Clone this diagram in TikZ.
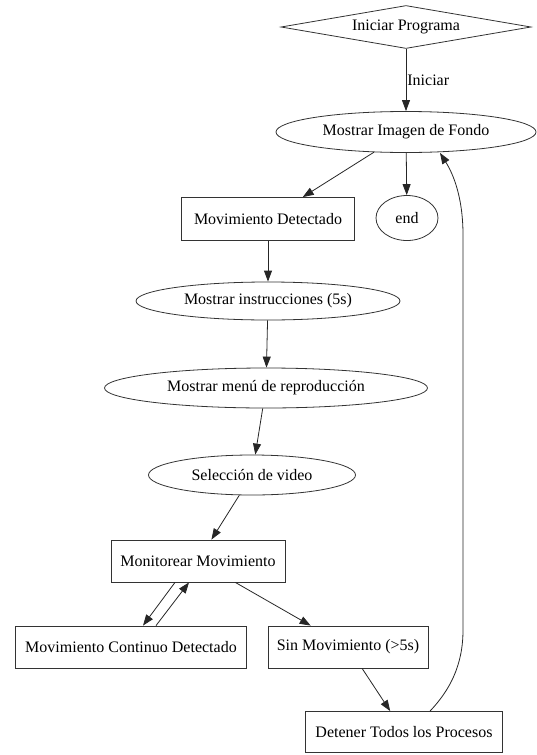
\documentclass[tikz,border=0pt]{standalone}
\usepackage{fontspec}
\setmainfont{Liberation Serif}
\usepackage{tikz}
\usetikzlibrary{arrows.meta,positioning,shapes.geometric}

\begin{document}
\begin{tikzpicture}[
  x=1pt, y=-1pt,
  font=\fontsize{16}{19}\selectfont,
  proc/.style={rectangle, draw=black!80, line width=0.8pt, inner sep=2pt,
               minimum height=42pt, align=center},
  estado/.style={ellipse, draw=black!80, line width=0.8pt, inner sep=0pt,
                 minimum height=40pt, align=center},
  inicio/.style={diamond, aspect=5.8, draw=black!80, line width=0.8pt, inner sep=0pt,
                 minimum width=250pt, minimum height=43pt, align=center},
  arr/.style={-{Triangle[length=11pt,width=8pt]}, line width=0.8pt, draw=black!85},
  lbl/.style={inner sep=1pt}
]
\useasboundingbox (0,0) rectangle (536,755);

% Inicio
\node[inicio] (ini) at (406,27) {Iniciar Programa};
\node[estado, minimum width=260pt, minimum height=41pt] (img) at (406,132) {Mostrar Imagen de Fondo};

% Rama principal
\node[proc, minimum width=173pt, minimum height=43pt] (det1) at (268,219) {Movimiento Detectado};
\node[estado, minimum width=62pt, minimum height=45pt] (fin) at (407,218) {end};
\node[estado, minimum width=264pt, minimum height=38pt] (instr) at (268,301) {Mostrar instrucciones (5s)};
\node[estado, minimum width=323pt] (menu) at (266,388) {Mostrar menú de reproducción};
\node[estado, minimum width=207pt] (sel) at (252,475) {Selección de video};

% Monitoreo
\node[proc, minimum width=174pt] (mon) at (198,561) {Monitorear Movimiento};
\node[proc, minimum width=231pt] (cont) at (131,647) {Movimiento Continuo Detectado};
\node[proc, minimum width=160pt] (sin) at (348,647) {Sin Movimiento (>5s)};
\node[proc, minimum width=197pt, minimum height=41pt] (stop) at (404,732) {Detener Todos los Procesos};

% Flechas
\draw[arr] (ini) -- node[lbl, anchor=west, pos=0.5]{Iniciar} (img);
\draw[arr] (img) -- (det1);
\draw[arr] (img) -- (fin);
\draw[arr] (det1) -- (instr);
\draw[arr] (instr) -- (menu);
\draw[arr] (menu) -- (sel);
\draw[arr] (sel) -- (mon);
\draw[arr] ([xshift=-23pt]mon.south) -- ([xshift=12pt]cont.north);
\draw[arr] ([xshift=25pt]cont.north) -- ([xshift=-9pt]mon.south);
\draw[arr] (mon) -- (sin);
\draw[arr] (sin) -- (stop);

% Retorno
\draw[arr] ([xshift=26pt]stop.north) .. controls (450,690) and (463,665) .. (463,630)
  -- (463,235) .. controls (463,195) and (452,172) .. ([xshift=34pt]img.south);

\end{tikzpicture}
\end{document}
